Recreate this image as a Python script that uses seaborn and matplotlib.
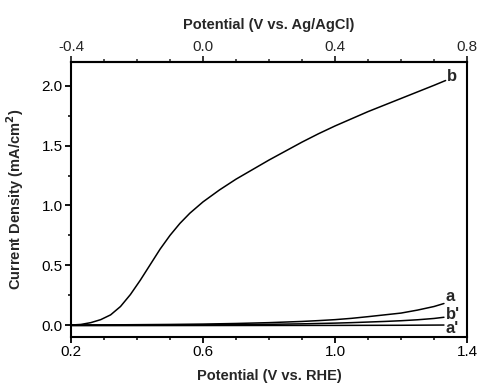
import numpy as np
import pandas as pd
import seaborn as sns
import matplotlib
matplotlib.use("Agg")
import matplotlib.pyplot as plt
from matplotlib.ticker import MultipleLocator

# curve values (potential vs RHE, current density mA/cm2)
x_b = [0.20, 0.23, 0.26, 0.29, 0.32, 0.35, 0.38, 0.41, 0.44, 0.47, 0.50, 0.53,
       0.56, 0.60, 0.65, 0.70, 0.75, 0.80, 0.85, 0.90, 0.95, 1.00, 1.05, 1.10,
       1.15, 1.20, 1.25, 1.30, 1.335]
y_b = [0.0, 0.005, 0.02, 0.045, 0.085, 0.155, 0.255, 0.375, 0.505, 0.635, 0.75, 0.85,
       0.935, 1.03, 1.13, 1.22, 1.30, 1.38, 1.455, 1.53, 1.60, 1.665, 1.725, 1.785,
       1.84, 1.895, 1.95, 2.005, 2.045]

x_a = [0.2, 0.3, 0.4, 0.5, 0.6, 0.7, 0.8, 0.9, 0.95, 1.0, 1.05, 1.1, 1.15,
       1.2, 1.25, 1.3, 1.33]
y_a = [0.0, 0.001, 0.003, 0.005, 0.008, 0.013, 0.02, 0.03, 0.037, 0.045,
       0.056, 0.07, 0.085, 0.10, 0.125, 0.155, 0.18]

x_bp = [0.2, 0.4, 0.6, 0.7, 0.8, 0.9, 1.0, 1.05, 1.1, 1.15, 1.2, 1.25, 1.3, 1.33]
y_bp = [0.0, 0.0, 0.002, 0.004, 0.006, 0.01, 0.016, 0.02, 0.025, 0.03, 0.036,
        0.044, 0.055, 0.065]

x_ap = [0.2, 0.6, 1.0, 1.2, 1.33]
y_ap = [-0.005, -0.004, -0.003, -0.002, 0.0]

labels = ["b", "a", "b'", "a'"]
label_pos = [(1.338, 2.08), (1.335, 0.24), (1.335, 0.09), (1.335, -0.03)]

df = pd.concat([
    pd.DataFrame({"E": x_b, "j": y_b, "curve": "b"}),
    pd.DataFrame({"E": x_a, "j": y_a, "curve": "a"}),
    pd.DataFrame({"E": x_bp, "j": y_bp, "curve": "b'"}),
    pd.DataFrame({"E": x_ap, "j": y_ap, "curve": "a'"}),
])

sns.set_style("ticks")
plt.rcParams['font.family'] = ['Liberation Sans', 'DejaVu Sans']
plt.rcParams['axes.unicode_minus'] = False

fig = plt.figure(figsize=(4.81, 3.85), dpi=100)
ax = fig.add_axes([0.1476, 0.1247, 0.8234, 0.7143])

sns.lineplot(data=df, x="E", y="j", units="curve", estimator=None, sort=False,
             color="black", linewidth=1.1, ax=ax, legend=False)

for lab, (lx, ly) in zip(labels, label_pos):
    ax.text(lx, ly, lab, fontsize=12, fontweight="bold", ha="left", va="center")

ax.set_xlim(0.2, 1.4)
ax.set_ylim(-0.1, 2.2)
ax.set_xticks([0.2, 0.6, 1.0, 1.4])
ax.xaxis.set_minor_locator(MultipleLocator(0.1))
ax.set_yticks([0.0, 0.5, 1.0, 1.5, 2.0])
ax.yaxis.set_minor_locator(MultipleLocator(0.25))

for s in ax.spines.values():
    s.set_visible(True)
    s.set_linewidth(1.5)
    s.set_color("black")

ax.tick_params(which="major", direction="out", length=4, width=1.3, labelsize=11,
               colors="black", pad=2)
ax.tick_params(which="minor", direction="out", length=2, width=1.1, colors="black")
ax.tick_params(top=False, right=False, which="both")

ax.set_xlabel("Potential (V vs. RHE)", fontsize=10.5, fontweight="bold", labelpad=7)
ax.set_ylabel("Current Density (mA/cm$^\\mathbf{2}$)", fontsize=10.5,
              fontweight="bold", labelpad=11)

top = ax.secondary_xaxis("top", functions=(lambda v: v - 0.6, lambda v: v + 0.6))
top.set_xticks([-0.4, 0.0, 0.4, 0.8])
top.xaxis.set_minor_locator(MultipleLocator(0.1))
top.tick_params(which="major", direction="out", length=4, width=1.3, labelsize=11, pad=2)
top.tick_params(which="minor", direction="out", length=2, width=1.1)
top.spines["top"].set_linewidth(1.5)
top.set_xlabel("Potential (V vs. Ag/AgCl)", fontsize=10.5, fontweight="bold", labelpad=8)

fig.savefig("out.png", dpi=100)
